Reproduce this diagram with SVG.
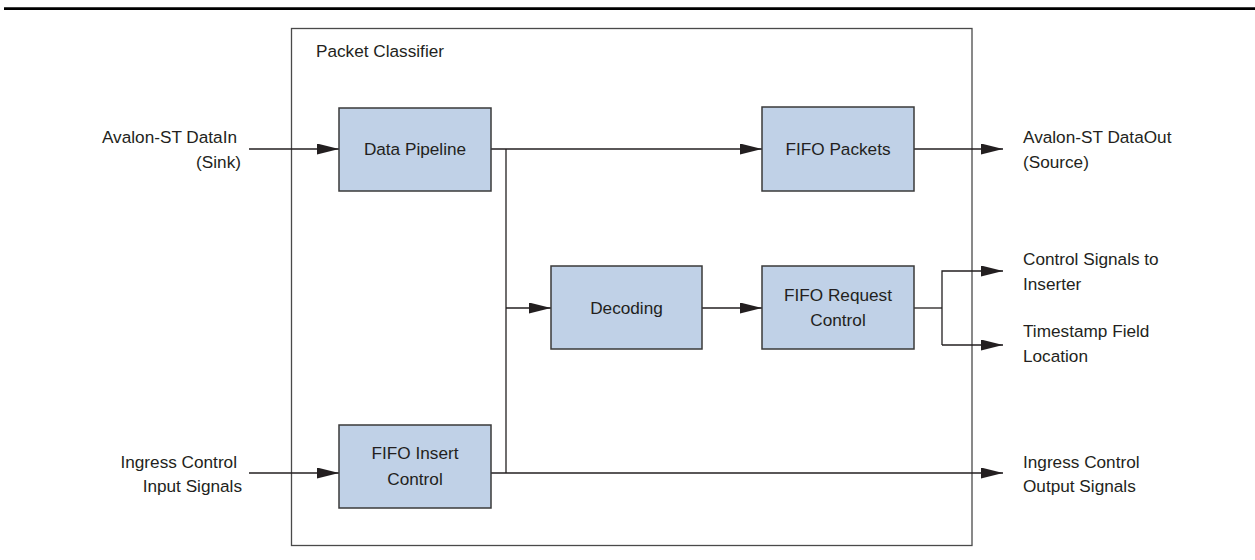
<svg xmlns="http://www.w3.org/2000/svg" width="1255" height="560" viewBox="0 0 1255 560">
<style>
text{font-family:"Liberation Sans",Arial,sans-serif;font-size:17.2px;fill:#231f20}
.blk rect{fill:#c0d1e7;stroke:#3a3a3a;stroke-width:1.5}
.c{text-anchor:middle}
.r{text-anchor:end}
#connectors path{fill:none;stroke:#231f20;stroke-width:1.3}
</style>
<defs>
<marker id="ah" markerUnits="userSpaceOnUse" markerWidth="22" markerHeight="11" refX="22" refY="5.5" orient="auto">
<path d="M0,0 L22,5.5 L0,11 z" fill="#231f20"/>
</marker>
</defs>
<rect x="0" y="0" width="1255" height="560" fill="#fff"/>
<line x1="4" y1="8.7" x2="1255" y2="8.7" stroke="#000" stroke-width="2.7"/>
<g id="classifier">
<rect x="291.5" y="28.5" width="680.5" height="517" fill="none" stroke="#4a4a4a" stroke-width="1.3"/>
<text x="316" y="57">Packet Classifier</text>
</g>
<g id="connectors">
<path d="M249,149 H339" marker-end="url(#ah)"/>
<path d="M491,149 H762" marker-end="url(#ah)"/>
<path d="M506,149 V473"/>
<path d="M506,308 H551" marker-end="url(#ah)"/>
<path d="M702,308 H762" marker-end="url(#ah)"/>
<path d="M914,149 H1003" marker-end="url(#ah)"/>
<path d="M914,308 H942"/>
<path d="M942,345 V271 H1003" marker-end="url(#ah)"/>
<path d="M942,345 H1003" marker-end="url(#ah)"/>
<path d="M249,473 H339" marker-end="url(#ah)"/>
<path d="M491,473 H1003" marker-end="url(#ah)"/>
</g>
<g id="data-pipeline" class="blk">
<rect x="339" y="108" width="152" height="83"/>
<text class="c" x="415" y="155">Data Pipeline</text>
</g>
<g id="fifo-packets" class="blk">
<rect x="762" y="107" width="152" height="84"/>
<text class="c" x="838" y="155">FIFO Packets</text>
</g>
<g id="decoding" class="blk">
<rect x="551" y="266" width="151" height="83"/>
<text class="c" x="626.5" y="314">Decoding</text>
</g>
<g id="fifo-request-control" class="blk">
<rect x="762" y="266" width="152" height="83"/>
<text class="c" x="838" y="301">FIFO Request</text>
<text class="c" x="838" y="326">Control</text>
</g>
<g id="fifo-insert-control" class="blk">
<rect x="339" y="425" width="152" height="83"/>
<text class="c" x="415" y="459">FIFO Insert</text>
<text class="c" x="415" y="485">Control</text>
</g>
<g id="in-datain">
<text class="r" x="237" y="143">Avalon-ST DataIn</text>
<text class="r" x="241" y="168">(Sink)</text>
</g>
<g id="in-ingress">
<text class="r" x="237" y="468">Ingress Control</text>
<text class="r" x="242" y="492">Input Signals</text>
</g>
<g id="out-dataout">
<text x="1023" y="143">Avalon-ST DataOut</text>
<text x="1023" y="168">(Source)</text>
</g>
<g id="out-control">
<text x="1023" y="265">Control Signals to</text>
<text x="1023" y="290">Inserter</text>
</g>
<g id="out-timestamp">
<text x="1023" y="337">Timestamp Field</text>
<text x="1023" y="362">Location</text>
</g>
<g id="out-ingress">
<text x="1023" y="468">Ingress Control</text>
<text x="1023" y="492">Output Signals</text>
</g>
</svg>
